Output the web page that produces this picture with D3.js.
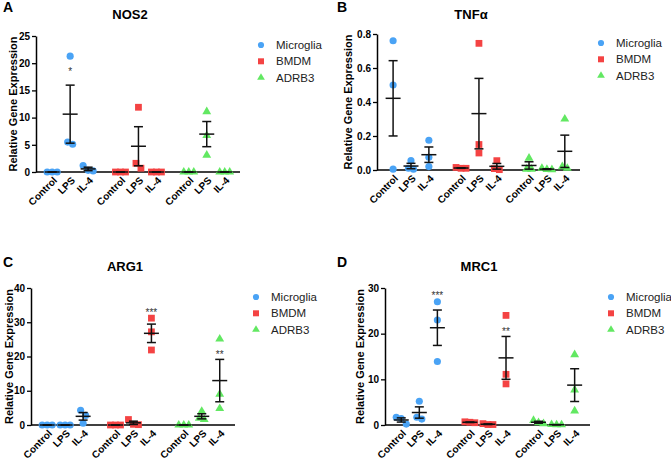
<!DOCTYPE html>
<html>
<head>
<meta charset="utf-8">
<script src="https://cdn.jsdelivr.net/npm/d3@7"></script>
<style>
  html, body { margin: 0; padding: 0; background: #fff; }
  svg { display: block; font-family: "Liberation Sans", Arial, sans-serif; }
</style>
</head>
<body>
<svg id="chart" width="671" height="460"></svg>
<script>
// ---------------- DATA ----------------
const treatments = ["Control", "LPS", "IL-4"];
const cellTypes = ["Microglia", "BMDM", "ADRB3"];

// NOS2 (three replicates per treatment)
const nos2Microglia = [[0, 0, 0], [21.3, 5.1, 5.5], [1.2, 0.3, 0.2]];
const nos2Bmdm      = [[0, 0, 0], [11.9, 1.6, 0.7], [0, 0, 0]];
const nos2Adrb3     = [[0, 0, 0], [11.1, 6.7, 3.1], [0, 0, 0]];
const nos2Ticks = [0, 5, 10, 15, 20, 25];
const nos2Stars = [{ cell: 0, treat: 1, label: "*", value: 18.9 }];

// TNFα
const tnfMicroglia = [[0.76, 0.50, 0.005], [0.055, 0.01, 0.005], [0.175, 0.075, 0.02]];
const tnfBmdm      = [[0.015, 0.01, 0.01], [0.745, 0.15, 0.10], [0.055, 0.008, 0.002]];
const tnfAdrb3     = [[0.07, 0.005, 0.005], [0.01, 0.003, 0.002], [0.30, 0.02, 0.01]];
const tnfTicks = [0, 0.2, 0.4, 0.6, 0.8];
const tnfStars = [];

// ARG1
const arg1Microglia = [[0, 0, 0], [0, 0, 0], [4.3, 2.8, 0.5]];
const arg1Bmdm      = [[0, 0, 0], [1.6, 0.2, 0.1], [31.2, 27.2, 21.9]];
const arg1Adrb3     = [[0, 0, 0], [4.0, 2.0, 1.6], [25.1, 9.0, 4.8]];
const arg1Ticks = [0, 10, 20, 30, 40];
const arg1Stars = [{ cell: 1, treat: 2, label: "***", value: 33.5 },
                   { cell: 2, treat: 2, label: "**", value: 21.3 }];

// MRC1
const mrc1Microglia = [[1.7, 1.4, 0.2], [5.2, 1.7, 1.3], [27.0, 23.0, 13.9]];
const mrc1Bmdm      = [[0.7, 0.6, 0.5], [0.3, 0.1, 0.1], [24.0, 11.1, 9.0]];
const mrc1Adrb3     = [[1.0, 0.5, 0.3], [0.1, 0.05, 0.05], [15.4, 7.7, 3.1]];
const mrc1Ticks = [0, 10, 20, 30];
const mrc1Stars = [{ cell: 0, treat: 2, label: "***", value: 28.9 },
                   { cell: 1, treat: 2, label: "**", value: 21.0 }];

// ---------------- STYLE / LAYOUT ----------------
const colors = ["#4aa3f5", "#f44343", "#62e862"];
const symbols = [d3.symbolCircle, d3.symbolSquare, d3.symbolTriangle];
const symSizes = [40, 46, 34];
const legSizes = [30, 36, 26];
const FONT = '"Liberation Sans", Arial, sans-serif';

const svg = d3.select("#chart");

const panels = [
  { letter: "A", title: "NOS2", data: [nos2Microglia, nos2Bmdm, nos2Adrb3], ticks: nos2Ticks, stars: nos2Stars,
    fmt: d3.format("d"), x0: 36, x1: 240, yTop: 36, yBot: 172, letterX: 3, letterY: 12, titleY: 19, labOff: 19 },
  { letter: "B", title: "TNFα", data: [tnfMicroglia, tnfBmdm, tnfAdrb3], ticks: tnfTicks, stars: tnfStars,
    fmt: d3.format(".1f"), x0: 377, x1: 580, yTop: 34, yBot: 170, letterX: 337, letterY: 12, titleY: 19, labOff: 25 },
  { letter: "C", title: "ARG1", data: [arg1Microglia, arg1Bmdm, arg1Adrb3], ticks: arg1Ticks, stars: arg1Stars,
    fmt: d3.format("d"), x0: 31, x1: 235, yTop: 288, yBot: 425, letterX: 3, letterY: 267, titleY: 271, labOff: 18 },
  { letter: "D", title: "MRC1", data: [mrc1Microglia, mrc1Bmdm, mrc1Adrb3], ticks: mrc1Ticks, stars: mrc1Stars,
    fmt: d3.format("d"), x0: 385, x1: 590, yTop: 288, yBot: 425, letterX: 337, letterY: 267, titleY: 271, labOff: 21 }
];

const GROUP_STRIDE = 3.8;
function slot(cell, treat) { return cell * GROUP_STRIDE + treat; }

panels.forEach(p => {
  const g = svg.append("g");
  const x = d3.scaleLinear().domain([-0.9, 2 * GROUP_STRIDE + 2.85]).range([p.x0, p.x1]);
  const y = d3.scaleLinear().domain([0, d3.max(p.ticks)]).range([p.yBot, p.yTop]);

  // panel letter & title
  g.append("text").attr("x", p.letterX).attr("y", p.letterY)
    .attr("font-size", 14).attr("font-weight", "bold").attr("fill", "#000").text(p.letter);
  g.append("text").attr("x", p.x0 + 94).attr("y", p.titleY).attr("text-anchor", "middle")
    .attr("font-size", 13).attr("font-weight", "bold").attr("fill", "#000").text(p.title);

  // y axis
  const yAxis = g.append("g").attr("transform", `translate(${p.x0},0)`)
    .call(d3.axisLeft(y).tickValues(p.ticks).tickFormat(p.fmt).tickSize(4).tickSizeOuter(0).tickPadding(2));
  yAxis.select(".domain").attr("stroke", "#000").attr("stroke-width", 1.5);
  yAxis.selectAll(".tick line").attr("stroke", "#000").attr("stroke-width", 1.3);
  yAxis.selectAll(".tick text").attr("font-size", 10).attr("font-weight", "bold")
    .attr("font-family", FONT).attr("fill", "#000");

  // y axis title
  const ym = (p.yTop + p.yBot) / 2;
  g.append("text").attr("transform", `translate(${p.x0 - p.labOff},${ym}) rotate(-90)`)
    .attr("text-anchor", "middle").attr("font-size", 11).attr("font-weight", "bold").attr("fill", "#000")
    .text("Relative Gene Expression");

  // x axis
  const slots = [];
  cellTypes.forEach((c, ci) => treatments.forEach((t, ti) => slots.push({ ci, ti, s: slot(ci, ti), label: t })));
  const xAxis = g.append("g").attr("transform", `translate(0,${p.yBot})`)
    .call(d3.axisBottom(x).tickValues(slots.map(d => d.s))
      .tickFormat((d, i) => slots[i].label).tickSize(0).tickSizeOuter(0));
  xAxis.select(".domain").attr("stroke", "#000").attr("stroke-width", 1.5)
    .attr("d", `M${p.x0},0H${p.x1}`);
  xAxis.selectAll(".tick text").attr("font-size", 10).attr("font-weight", "bold")
    .attr("font-family", FONT).attr("fill", "#000")
    .attr("text-anchor", "end").attr("x", 0).attr("y", 0).attr("dy", 0)
    .attr("transform", "translate(5,9) rotate(-45)");

  // points
  const pts = g.append("g");
  const bars = g.append("g");
  p.data.forEach((series, ci) => {
    series.forEach((vals, ti) => {
      const cx = x(slot(ci, ti));
      // spread overlapping points horizontally
      const items = vals.map(v => ({ v, py: y(v) })).sort((a, b) => a.py - b.py);
      const clusters = [];
      items.forEach(it => {
        const last = clusters[clusters.length - 1];
        if (last && Math.abs(it.py - last[last.length - 1].py) < 6) last.push(it);
        else clusters.push([it]);
      });
      clusters.forEach(cl => cl.forEach((it, k) => { it.dx = (k - (cl.length - 1) / 2) * 5; }));
      pts.selectAll(null).data(items).enter().append("path")
        .attr("d", d3.symbol().type(symbols[ci]).size(symSizes[ci]))
        .attr("transform", d => `translate(${cx + d.dx},${d.py})`)
        .attr("fill", colors[ci]);

      // mean ± SEM
      const m = d3.mean(vals);
      const sem = d3.deviation(vals) / Math.sqrt(vals.length);
      const bg = bars.append("g").attr("stroke", "#111").attr("stroke-width", 1.5).attr("fill", "none");
      bg.append("line").attr("x1", cx).attr("x2", cx).attr("y1", y(m + sem)).attr("y2", y(Math.max(0, m - sem)));
      bg.append("line").attr("x1", cx - 4.5).attr("x2", cx + 4.5).attr("y1", y(m + sem)).attr("y2", y(m + sem));
      bg.append("line").attr("x1", cx - 4.5).attr("x2", cx + 4.5).attr("y1", y(Math.max(0, m - sem))).attr("y2", y(Math.max(0, m - sem)));
      bg.append("line").attr("x1", cx - 7.5).attr("x2", cx + 7.5).attr("y1", y(m)).attr("y2", y(m));
    });
  });

  // significance stars
  g.selectAll(null).data(p.stars).enter().append("text")
    .attr("x", d => x(slot(d.cell, d.treat)))
    .attr("y", d => y(d.value) + 5.5)
    .attr("text-anchor", "middle").attr("font-size", 10).attr("fill", "#333")
    .text(d => d.label);

  // legend
  const lg = g.append("g").attr("transform", `translate(${p.x1 + 21},${p.yTop + 9})`);
  cellTypes.forEach((c, ci) => {
    const row = lg.append("g").attr("transform", `translate(0,${ci * 16.3})`);
    row.append("path").attr("d", d3.symbol().type(symbols[ci]).size(legSizes[ci])).attr("fill", colors[ci]);
    row.append("text").attr("x", 15).attr("y", 4).attr("font-size", 11.5).attr("fill", "#222").text(c);
  });
});
</script>
</body>
</html>
